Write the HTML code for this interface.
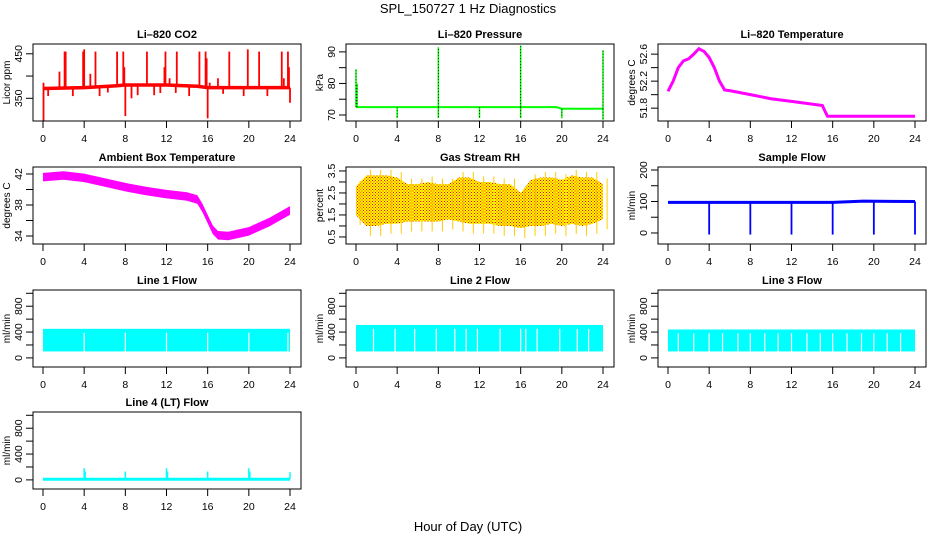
<!DOCTYPE html>
<html><head><meta charset="utf-8"><style>
html,body{margin:0;padding:0;background:#fff;}
svg{display:block;font-family:"Liberation Sans",sans-serif;}
</style></head><body>
<svg id="chart" width="936" height="540" viewBox="0 0 936 540" xmlns="http://www.w3.org/2000/svg">
<defs>
<pattern id="rhdots" width="3" height="3" patternUnits="userSpaceOnUse"><rect x="0" y="0" width="1" height="1" fill="#ff0000"/><rect x="1.5" y="1.5" width="1" height="1" fill="#ff0000"/></pattern>
</defs>
<text x="468" y="13" font-size="13" text-anchor="middle">SPL_150727  1 Hz Diagnostics</text>
<text x="468" y="531" font-size="13" text-anchor="middle">Hour of Day (UTC)</text>
</svg>
<script>
const xTicks=[0,4,8,12,16,20,24];
// CO2
const co2BaseHours=[0,4,7,8,12,15,16,24];
const co2Base=[372,374,378,380,380,377,374,374];
const co2SpikeH=[0.05,0.05,1.6,2.1,2.2,3.9,4.0,4.6,5.1,7.2,7.8,7.9,8.0,8.6,10.1,11.8,11.9,12.3,13.0,15.2,15.8,15.9,16.0,16.2,17.0,18.1,19.9,21.0,23.2,23.4,23.8,23.9,24.0,0.5,2.9,5.5,6.3,9.2,10.8,11.4,12.9,14.2,17.5,19.5,21.8];
const co2SpikeV=[385,300,410,455,455,455,460,405,455,455,455,420,310,350,455,420,455,395,455,455,455,440,305,385,395,455,460,455,455,395,455,420,340,355,355,355,363,357,357,362,362,355,360,355,355];
// Pressure
const presHours=[0,19.5,20,24];
const presBase=[72.5,72.5,72,72];
const presSpikeH=[0,0.1,8,16,24,4,8,12,16,20,24];
const presSpikeV=[84.5,80,91.5,92,90.5,69,69,69,69,69,68.5];
// Li-820 temperature
const tempHours=[0,0.5,1,1.5,2,2.5,3,3.5,4,4.5,5,5.5,6,8,10,12,14,15,15.3,15.5,24];
const tempVals=[52.05,52.2,52.4,52.5,52.53,52.6,52.68,52.64,52.55,52.4,52.2,52.07,52.06,52.0,51.94,51.9,51.86,51.84,51.74,51.68,51.68];
// Ambient
const ambHours=[0,2,4,6,8,10,12,14,15,15.5,16,16.5,17,18,19,20,22,24];
const ambVals=[41.6,41.8,41.5,40.9,40.3,39.8,39.4,39.1,38.7,37.6,36.2,34.8,34.1,34.0,34.3,34.6,35.8,37.3];
// RH
const rhHours=[0,1,2,3,4,5,6,7,8,9,10,11,12,13,14,15,16,17,18,19,20,21,22,23,24];
const rhHi=[2.8,3.3,3.3,3.3,3.2,2.9,2.9,3.0,2.9,2.9,3.2,3.2,3.0,3.0,2.9,2.9,2.5,3.1,3.2,3.2,3.1,3.3,3.2,3.2,2.9];
const rhLo=[1.5,1.0,1.0,1.1,1.1,1.2,1.2,1.2,1.2,1.3,1.2,1.1,1.1,1.1,1.0,1.0,0.9,1.0,1.0,1.1,1.0,1.1,1.0,1.1,1.3];
// Sample flow
const sfHours=[0,16,19,24];
const sfBase=[97,97,101,100];
const sfDropH=[4,8,12,16,20,24];
const sfDropV=[-5,-5,-5,-5,-5,-5];
// Line flows
const l1Hi=450,l1Lo=100,l2Hi=510,l2Lo=100,l3Hi=440,l3Lo=100;
const l1Gaps=[4,8,12,16,20,23.8];
const l2Gaps=[1.7,3.8,5.7,7.8,9.6,10.7,11.8,14.0,16.0,16.5,17.6,19.8,21.5,22.6];
const l3Gaps=[1.0,2.5,4.0,5.3,6.8,8.0,9.4,10.7,12.0,13.5,14.8,16.0,17.4,18.8,20.0,21.3,22.6];
const l4Base=10;
const l4SpikeH=[4,4.1,8,12,12.1,16,20,20.1,24];
const l4SpikeV=[180,130,130,180,130,130,180,130,120];

const svg=document.getElementById('chart');
const NS='http://www.w3.org/2000/svg';
function mk(tag,attrs,parent){const e=document.createElementNS(NS,tag);for(const k in attrs)e.setAttribute(k,attrs[k]);(parent||svg).appendChild(e);return e;}
const colL=[33,346,658],rowT=[44,167,290,412],W=268,H=77;
function panel(i,name,title,ylab,ymin,ymax,ticks,labs){
  const L=colL[i%3],T=rowT[Math.floor(i/3)];
  const g=mk('g',{});
  
  
  const xs=h=>L+10+h*247/24, ys=v=>T+H-(v-ymin)/(ymax-ymin)*H;
  const t=mk('text',{x:L+W/2,y:T-6,'font-size':11,'font-weight':'bold','text-anchor':'middle'},g);t.textContent=title;
  
  
  const yt=mk('text',{transform:`translate(${L-23},${T+H/2}) rotate(-90)`,'font-size':10,'text-anchor':'middle'},g);yt.textContent=ylab;
  
  
  mk('line',{x1:xs(0),x2:xs(24),y1:T+H,y2:T+H,stroke:'#000'},g);
  xTicks.forEach(h=>{mk('line',{x1:xs(h),x2:xs(h),y1:T+H,y2:T+H+7,stroke:'#000'},g);
    const tx=mk('text',{x:xs(h),y:T+H+21,'font-size':10.5,'text-anchor':'middle'},g);tx.textContent=h;
    
    });
  mk('line',{x1:L,x2:L,y1:ys(ticks[0]),y2:ys(ticks[ticks.length-1]),stroke:'#000'},g);
  ticks.forEach(v=>{mk('line',{x1:L-7,x2:L,y1:ys(v),y2:ys(v),stroke:'#000'},g);});
  labs.forEach(v=>{const ty=mk('text',{transform:`translate(${L-11},${ys(v)}) rotate(-90)`,'font-size':10.5,'text-anchor':'middle'},g);ty.textContent=v;
    
    });
  const clip=mk('g',{},g);
  mk('rect',{x:L,y:T,width:W,height:H,fill:'none',stroke:'#000'},g);
  return {g:clip,xs,ys};
}
function poly(p,hs,vs,col,w,name){const pl=mk('polyline',{points:hs.map((h,i)=>p.xs(h)+','+p.ys(vs[i])).join(' '),fill:'none',stroke:col,'stroke-width':w},p.g);
  
  return pl;}
function spikes(p,hs,vs,baseFn,col,w,name,dash){hs.forEach((h,i)=>{const l=mk('line',{x1:p.xs(h),x2:p.xs(h),y1:p.ys(baseFn(h)),y2:p.ys(vs[i]),stroke:col,'stroke-width':w},p.g);
  if(dash)l.setAttribute('stroke-dasharray',dash);
  
  });}
function interp(hs,vs,h){for(let i=1;i<hs.length;i++){if(h<=hs[i]){const f=(h-hs[i-1])/(hs[i]-hs[i-1]||1);return vs[i-1]+f*(vs[i]-vs[i-1]);}}return vs[vs.length-1];}

// 1 CO2
let p=panel(0,'co2','Li\u2013820 CO2','Licor ppm',299,472,[350,400,450],[350,450]);
poly(p,co2BaseHours,co2Base,'#ff0000',3.5,'co2-line');
spikes(p,co2SpikeH,co2SpikeV,h=>interp(co2BaseHours,co2Base,h),'#ff0000',1.8,'co2-spike');
// 2 Pressure
p=panel(1,'pressure','Li\u2013820 Pressure','kPa',68.1,92.5,[70,75,80,85,90],[70,80,90]);
poly(p,presHours,presBase,'#00ff00',2,'pressure-line');
spikes(p,presSpikeH,presSpikeV,h=>interp(presHours,presBase,h),'#00ff00',1.5,'pressure-spike');
spikes(p,presSpikeH,presSpikeV,h=>interp(presHours,presBase,h),'#000',0.8,'pressure-spike-dots','1 2');
// 3 Temperature
p=panel(2,'li820-temp','Li\u2013820 Temperature','degrees C',51.61,52.75,[51.8,52.0,52.2,52.4,52.6],[51.8,52.2,52.6]);
poly(p,tempHours,tempVals,'#ff00ff',3,'temperature-line');
// 4 Ambient
p=panel(3,'ambient','Ambient Box Temperature','degrees C',32.97,42.9,[34,36,38,40,42],[34,38,42]);
{const up=ambHours.map((h,i)=>p.xs(h)+','+p.ys(ambVals[i]+0.55));const dn=ambHours.map((h,i)=>p.xs(h)+','+p.ys(ambVals[i]-0.55)).reverse();
const b=mk('polygon',{points:up.concat(dn).join(' '),fill:'#ff00ff'},p.g);

}
// 5 RH
p=panel(4,'rh','Gas Stream RH','percent',0.18,3.68,[0.5,1,1.5,2,2.5,3,3.5],[0.5,1.5,2.5,3.5]);
{const up=rhHours.map((h,i)=>p.xs(h)+','+p.ys(rhHi[i]));const dn=rhHours.map((h,i)=>p.xs(h)+','+p.ys(rhLo[i])).reverse();
const b=mk('polygon',{points:up.concat(dn).join(' '),fill:'#ffff00'},p.g);


const b2=mk('polygon',{points:up.concat(dn).join(' '),fill:'url(#rhdots)'},p.g);


rhHours.forEach((h,i)=>{const l=mk('line',{x1:p.xs(h+0.4),x2:p.xs(h+0.4),y1:p.ys(rhHi[i]+0.25),y2:p.ys(rhLo[i]-0.45),stroke:'#ffcc00','stroke-width':1},p.g);

});}
// 6 Sample flow
p=panel(5,'sample-flow','Sample Flow','ml/min',-35,209.5,[0,50,100,150,200],[0,100,200]);
poly(p,sfHours,sfBase,'#0000ff',3,'sample-flow-line');
spikes(p,sfDropH,sfDropV,h=>interp(sfHours,sfBase,h),'#0000ff',1.8,'sample-flow-drop');
// 7-9 Line flows
function flowPanel(i,name,title,hi,lo,gaps){const q=panel(i,name,title,'ml/min',-141,1051,[0,200,400,600,800,1000],[0,400,800]);
  const r=mk('rect',{x:q.xs(0),y:q.ys(hi),width:q.xs(24)-q.xs(0),height:q.ys(lo)-q.ys(hi),fill:'#00ffff'},q.g);
  
  
  gaps.forEach(h=>{const l=mk('line',{x1:q.xs(h),x2:q.xs(h),y1:q.ys(hi-60),y2:q.ys(lo),stroke:'#fff','stroke-width':1.2},q.g);
  
  });return q;}
flowPanel(6,'line1-flow','Line 1 Flow',l1Hi,l1Lo,l1Gaps);
flowPanel(7,'line2-flow','Line 2 Flow',l2Hi,l2Lo,l2Gaps);
flowPanel(8,'line3-flow','Line 3 Flow',l3Hi,l3Lo,l3Gaps);
// 10 Line 4
p=panel(9,'line4-flow','Line 4 (LT) Flow','ml/min',-141,1051,[0,200,400,600,800,1000],[0,400,800]);
poly(p,[0,24],[l4Base,l4Base],'#00ffff',3,'line4-flow-line');
spikes(p,l4SpikeH,l4SpikeV,h=>l4Base,'#00ffff',1.5,'line4-flow-spike');
</script>
</body></html>
